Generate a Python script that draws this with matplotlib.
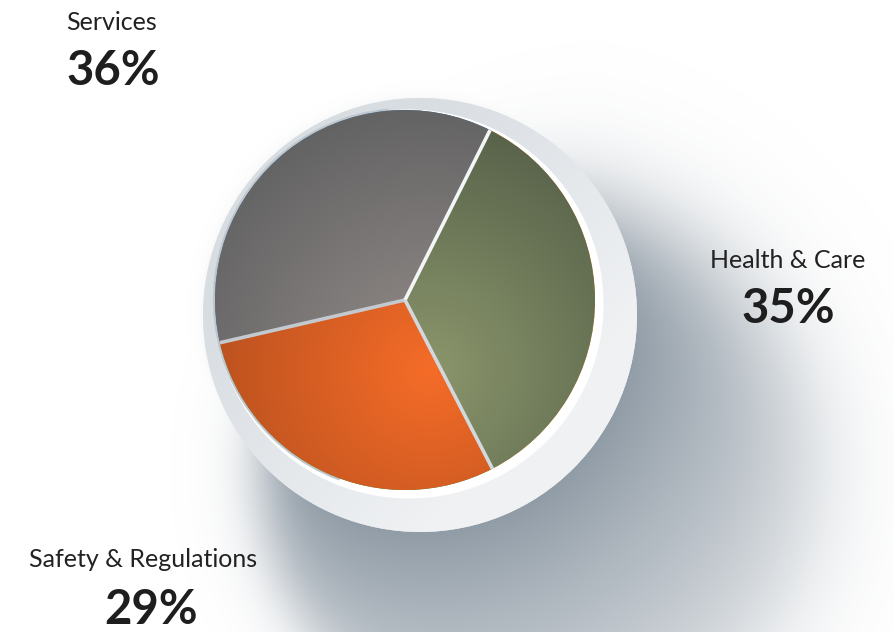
import numpy as np
import matplotlib.pyplot as plt
from matplotlib.patches import Circle, Arc
from matplotlib.colors import to_rgb

# chart data
categories = ['Services', 'Health & Care', 'Safety & Regulations']
shares = [36, 35, 29]
light_colors = ['#948d8a', '#8b966c', '#f56c28']
dark_colors = ['#5f5f60', '#4f5a45', '#a8491c']
seam_colors = ['#c3c9cf', '#f4f5f6', '#d3d8dd']

W, H = 895, 632
fig = plt.figure(figsize=(W / 100, H / 100), dpi=100)
ax = fig.add_axes([0, 0, 1, 1])

xs = np.arange(W) + 0.5
ys = np.arange(H) + 0.5
X, Y = np.meshgrid(xs, ys)

# geometry in pixels, y pointing up
ring_c = (420, H - 315)
ring_r = 217
pie_c = (405, H - 300)
pie_r = 190

# soft drop shadow: blurred disc offset to the lower right,
# sharper on the left, fading with distance from the ring
sh_c = (540, H - 480)
sh_r = 278
sigma = 30 + 25 * np.clip((X - 300) / 300, 0, 1)
d_sh = np.hypot(X - sh_c[0], Y - sh_c[1])
base = 1 / (1 + np.exp(-1.702 * (sh_r - d_sh) / sigma))
d_ring = np.hypot(X - ring_c[0], Y - ring_c[1]) - ring_r
fade = np.exp(-np.clip(d_ring, 0, None) / 300)
alpha = 0.97 * base * fade
glow = 0.06 * np.exp(-np.clip(d_ring, 0, None) / 6)
alpha = np.maximum(alpha, glow)
shadow = np.zeros((H, W, 4))
shadow[..., :3] = to_rgb('#8c98a3')
shadow[..., 3] = alpha
ax.imshow(shadow, extent=(0, W, 0, H), origin='lower', zorder=1, interpolation='bilinear')

# outer ring with a light linear gradient
ring = Circle(ring_c, ring_r, color='#e6e9ec', zorder=3, lw=0)
ax.add_patch(ring)
g = np.clip(((X - ring_c[0]) - (Y - ring_c[1])) / (2 * ring_r) + 0.5, 0, 1)
c0, c1 = np.array(to_rgb('#d8dde2')), np.array(to_rgb('#eff1f3'))
ring_img = c0 * (1 - g[..., None]) + c1 * g[..., None]
im = ax.imshow(ring_img, extent=(0, W, 0, H), origin='lower', zorder=3.5)
im.set_clip_path(ring)

ax.add_patch(Circle((409, H - 304), 194.5, color='white', zorder=4, lw=0))
ax.add_patch(Arc(pie_c, 2 * pie_r + 2, 2 * pie_r + 2, theta1=95, theta2=250,
                 color='#bfc5cc', lw=1.6, zorder=4.5))

# pie
wedges, _ = ax.pie(shares, startangle=193, counterclock=False, center=pie_c,
                   radius=pie_r, frame=True, wedgeprops=dict(lw=0))
focus = (430, H - 370)
D = np.hypot(X - focus[0], Y - focus[1])
f = np.clip(D / 290, 0, 1)[..., None]
for wdg, lc, dc in zip(wedges, light_colors, dark_colors):
    wdg.set_zorder(5)
    img = np.array(to_rgb(lc)) * (1 - f) + np.array(to_rgb(dc)) * f
    im = ax.imshow(img, extent=(0, W, 0, H), origin='lower', zorder=6)
    im.set_clip_path(wdg)

# seams between slices
bounds = np.cumsum([0] + shares[:-1])
for b, sc in zip(bounds, seam_colors):
    a = np.deg2rad(193 - b / 100 * 360)
    ax.plot([pie_c[0], pie_c[0] + pie_r * np.cos(a)],
            [pie_c[1], pie_c[1] + pie_r * np.sin(a)],
            color=sc, lw=2.6, zorder=7, solid_capstyle='butt')

# labels (baseline positions)
label_pos = [(112, H - 30), (788, H - 268), (143, H - 567)]
value_pos = [(113, H - 85), (788, H - 323), (151, H - 624)]
for name, val, (lx, ly), (vx, vy) in zip(categories, shares, label_pos, value_pos):
    ax.text(lx, ly, name, ha='center', va='baseline', fontsize=18,
            family='Lato', color='#222222', zorder=10)
    ax.text(vx, vy, f'{val}%', ha='center', va='baseline', fontsize=34,
            family='Lato', weight='bold', color='#1e1e1e', zorder=10)

ax.set_xlim(0, W)
ax.set_ylim(0, H)
ax.set_aspect('auto')
ax.axis('off')
fig.savefig('out.png', dpi=100, facecolor='white')
